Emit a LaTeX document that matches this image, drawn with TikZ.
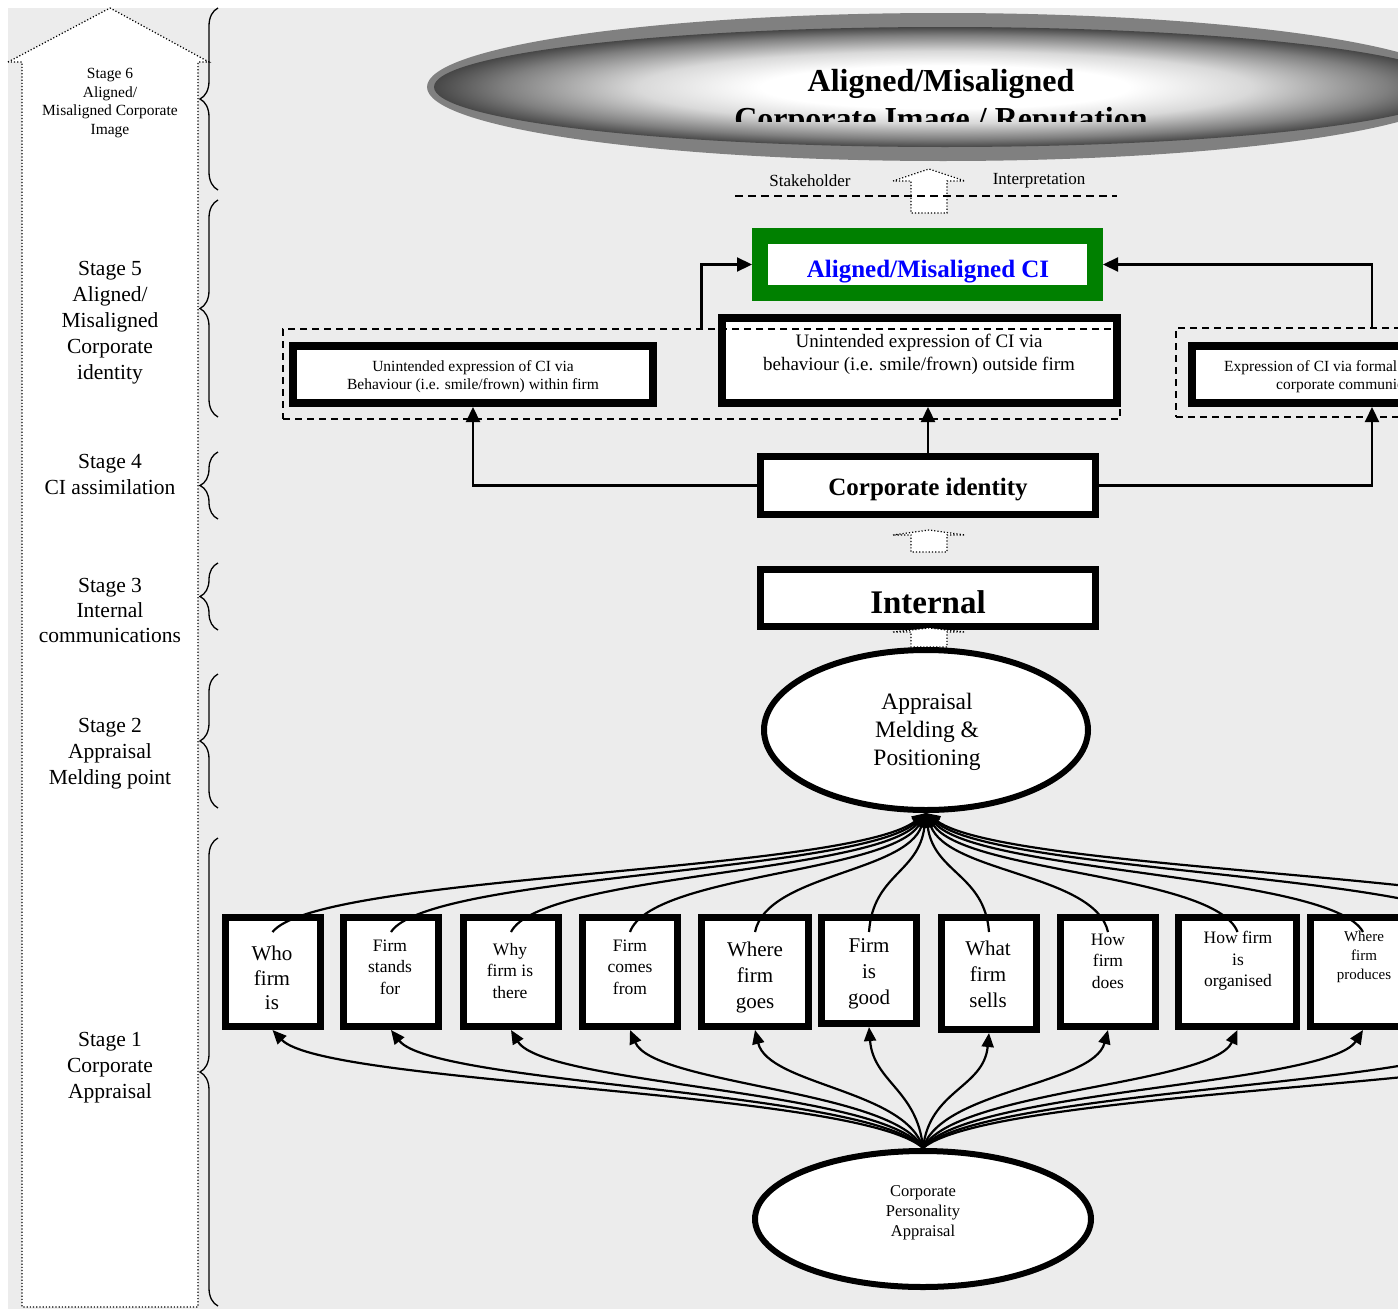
\documentclass[tikz,border=0pt]{standalone}
\usepackage{fontspec}
\setmainfont{Liberation Serif}
\usetikzlibrary{arrows.meta,calc,decorations.pathreplacing,shapes.geometric}

\definecolor{panelgray}{RGB}{236,236,236}
\definecolor{cigreen}{RGB}{0,128,0}
\definecolor{rimgray}{RGB}{128,128,128}
\pgfdeclareradialshading{glow}{\pgfpoint{0bp}{0bp}}{color(0bp)=(white); color(9bp)=(white); color(15bp)=(black!15); color(21.6bp)=(black!50); color(27bp)=(black!85); color(30bp)=(black); color(50bp)=(black)}

\newcommand{\fsz}[2]{\fontsize{#1}{#2}\selectfont}
% hollow dotted arrow: centre x, tip, shoulder, bottom
\newcommand{\ghostarrow}[4]{%
  \filldraw[ghost] (#1-36,#3) -- (#1,#2) -- (#1+36,#3) -- (#1+18,#3) -- (#1+18,#4) -- (#1-18,#4) -- (#1-18,#3) -- cycle;}

\begin{document}
\begin{tikzpicture}[x=1pt, y=-1pt,
    stagetxt/.style={align=center, font=\fsz{21.5}{26}},
    stagebrace/.style={decorate, decoration={brace, amplitude=18pt}, line width=1.3pt},
    ghost/.style={dotted, line width=1.2pt, fill=white},
    thickbox/.style={draw, line width=8pt, fill=white, inner sep=0pt, align=center},
    qbox/.style={draw, line width=7pt, fill=white, minimum width=95pt, minimum height=109pt, inner sep=0pt},
    qtxt/.style={align=center, inner sep=0pt},
    grp/.style={draw, dash pattern=on 7pt off 5pt, line width=1.6pt, inner sep=0pt},
    link/.style={line width=2.2pt, -{Triangle[length=15pt,width=14pt]}},
    fan/.style={line width=2.2pt, -{Triangle[length=14pt,width=12pt]}},
    oval/.style={ellipse, draw, line width=6pt, fill=white, inner sep=0pt, align=center}]
  \useasboundingbox (0,0) rectangle (1398,1309);
  \clip (0,0) rectangle (1398,1309);
  \fill[panelgray] (8,8) rectangle (1398,1309);

  % stage column
  \filldraw[fill=white, dotted, line width=1.2pt] (8,62) -- (110,8) -- (209,62) -- (198,62)
    -- (198,1307) -- (22,1307) -- (22,62) -- cycle;
  \node[stagetxt, font=\fsz{15.5}{18.5}] (s6) at (110,103) {Stage 6\\Aligned/\\Misaligned Corporate\\Image};
  \node[stagetxt] (s5) at (110,323) {Stage 5\\Aligned/\\Misaligned\\Corporate\\identity};
  \node[stagetxt] (s4) at (110,474) {Stage 4\\CI assimilation};
  \node[stagetxt, font=\fsz{21.5}{25}] (s3) at (110,610) {Stage 3\\Internal\\communications};
  \node[stagetxt] (s2) at (110,754) {Stage 2\\Appraisal\\Melding point};
  \node[stagetxt] (s1) at (110,1068) {Stage 1\\Corporate\\Appraisal};

  \draw[stagebrace] (218,190) -- (218,8);
  \draw[stagebrace] (218,417) -- (218,200);
  \draw[stagebrace] (218,519) -- (218,452);
  \draw[stagebrace] (218,630) -- (218,563);
  \draw[stagebrace] (218,808) -- (218,674);
  \draw[stagebrace] (218,1306) -- (218,838);

  % stage 6: image
  \fill[rimgray] (943,87) ellipse [x radius=516, y radius=74];
  \shade[shading=glow] (945,87) ellipse [x radius=511, y radius=60];
  \node[font=\bfseries\fsz{32}{36}, anchor=base] (imgtitle) at (941,91) {Aligned/Misaligned};
  \begin{scope}
    \clip (420,0) rectangle (1398,121);
    \node[font=\bfseries\fsz{32}{36}, anchor=base] (imgsub) at (941,129) {Corporate Image / Reputation};
  \end{scope}

  \ghostarrow{929}{169}{181}{213}
  \node[font=\fsz{17}{20}] (stake) at (810,181) {Stakeholder};
  \node[font=\fsz{17}{20}] (interp) at (1039,181) {Interpretation};
  \draw[dash pattern=on 8pt off 5pt, line width=1.6pt] (735,196) -- (1117,196);

  % stage 5
  \node[draw=cigreen, line width=16pt, fill=white, minimum width=335pt, minimum height=57pt,
        inner sep=0pt] (alignedci) at (927.5,264.5) {};
  \begin{scope}
    \clip (768,244) rectangle (1087,285);
    \node[font=\bfseries\fsz{25}{30}, text=blue, anchor=base] (alignedcitxt) at (928,277) {Aligned/Misaligned CI};
  \end{scope}

  \node[thickbox, minimum width=360pt, minimum height=57pt, font=\fsz{15.5}{18}] (within) at (473,374.5) {};
  \node[qtxt, font=\fsz{15.5}{18}] (withintxt) at (473,377)
       {Unintended expression of CI via\\Behaviour (i.e. smile/frown) within firm};
  \node[thickbox, minimum width=395pt, minimum height=85pt] (outside) at (919.5,360.5) {};
  \node[qtxt, font=\fsz{19}{23}] (outsidetxt) at (919,354)
       {Unintended expression of CI via\\behaviour (i.e. smile/frown) outside firm};
  \node[thickbox, minimum width=360pt, minimum height=57pt] (formal) at (1372,374.5) {};
  \node[align=left, font=\fsz{15.5}{18}, anchor=west, inner sep=0pt] (formaltxt) at (1224,377)
       {Expression of CI via formal\\\hspace*{52pt}corporate communication};

  \node[grp, minimum width=837pt, minimum height=90pt] (grp1) at (701.5,374) {};
  \node[grp, minimum width=392pt, minimum height=89pt] (grp2) at (1372,372.5) {};

  % stages 4 and 3
  \node[thickbox, line width=7pt, minimum width=335pt, minimum height=58pt, text height=25pt, text depth=5.5pt,
        font=\bfseries\fsz{25}{30}] (ci) at (928,485.5) {Corporate identity};
  \ghostarrow{929}{530}{535}{552}
  \node[thickbox, line width=7pt, minimum width=335pt, minimum height=57pt, text height=30pt, text depth=0pt,
        font=\bfseries\fsz{33}{38}] (internal) at (928,598) {Internal};
  \ghostarrow{929}{628}{632}{647}

  \draw[link] (grp1.north) |- (alignedci.west);
  \draw[link] (grp2.north) |- (alignedci.east);
  \draw[link] (ci.west) -| (within.south);
  \draw[link] (ci.north) -- (ci.north |- outside.south);
  \draw[link] (ci.east) -| (formal.south);

  % stages 2 and 1
  \node[oval, minimum width=324pt, minimum height=160pt, font=\fsz{23.5}{28}] (appraisal) at (926,730) {};
  \node[qtxt, font=\fsz{23.5}{28}] (appraisaltxt) at (927,732) {Appraisal\\Melding \&\\Positioning};

  \node[qbox] (q1) at (272.5,972) {};
  \node[qbox] (q2) at (391,972) {};
  \node[qbox] (q3) at (511,972) {};
  \node[qbox] (q4) at (630,972) {};
  \node[qbox, minimum width=107pt] (q5) at (755,972) {};
  \node[qbox, minimum height=106pt] (q6) at (869,970.5) {};
  \node[qbox, minimum height=112pt] (q7) at (989,973.5) {};
  \node[qbox] (q8) at (1108,972) {};
  \node[qbox, minimum width=118pt] (q9) at (1237.5,972) {};
  \node[qbox, minimum width=106pt] (q10) at (1363,972) {};
  \node[qbox] (q11) at (1490,972) {};
  \node[qbox] (q12) at (1615,972) {};

  \node[qtxt, font=\fsz{21}{24.5}] (t1) at (272,978) {Who\\firm\\is};
  \node[qtxt, font=\fsz{17.5}{21.5}] (t2) at (390,967) {Firm\\stands\\for};
  \node[qtxt, font=\fsz{17.5}{21.5}] (t3) at (510,971) {Why\\firm is\\there};
  \node[qtxt, font=\fsz{17.5}{21.5}] (t4) at (630,967) {Firm\\comes\\from};
  \node[qtxt, font=\fsz{21}{26}] (t5) at (755,977) {Where\\firm\\goes};
  \node[qtxt, font=\fsz{21}{26}] (t6) at (869,974) {Firm\\is\\good};
  \node[qtxt, font=\fsz{21}{26}] (t7) at (988,974) {What\\firm\\sells};
  \node[qtxt, font=\fsz{17.5}{21.5}] (t8) at (1108,961) {How\\firm\\does};
  \node[qtxt, font=\fsz{17.5}{21.5}] (t9) at (1238,961) {How firm\\is\\organised};
  \node[qtxt, font=\fsz{15}{19}] (t10) at (1364,957) {Where\\firm\\produces};

  \node[oval, minimum width=336pt, minimum height=136pt] (personality) at (923,1219) {};
  \node[qtxt, font=\fsz{16.5}{20}] (personalitytxt) at (923,1213) {Corporate\\Personality\\Appraisal};

  \foreach \i in {1,...,12} {
    \draw[fan] let \p1=([yshift=-18pt]q\i.north), \p2=(appraisal.south) in
      (\p1) .. controls ({\x1-0.07*(\x1-\x2)},{\y1+58pt}) and ({\x2+0.12*(\x1-\x2)},{\y2-60pt}) .. (\p2);
    \draw[fan] let \p1=(q\i.south), \p2=(personality.north) in
      (\p2) .. controls ({\x2+0.1*(\x1-\x2)},{\y2+58pt}) and ({\x1-0.08*(\x1-\x2)},{\y1-55pt}) .. (\p1);
  }
\end{tikzpicture}
\end{document}
